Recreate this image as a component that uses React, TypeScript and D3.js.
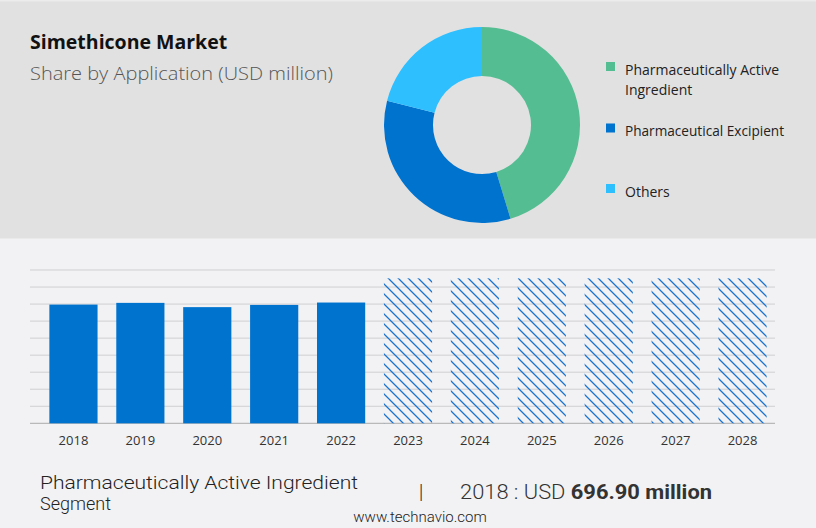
import React from "react";
import * as d3 from "d3";

const years = ["2018", "2019", "2020", "2021", "2022", "2023", "2024", "2025", "2026", "2027", "2028"];
const barValues = [696.9, 707, 682, 695, 709, 851, 851, 851, 851, 851, 851];
const forecastFrom = "2023";
const yTicks = [0, 100, 200, 300, 400, 500, 600, 700, 800, 900];

const segments = ["Pharmaceutically Active Ingredient", "Pharmaceutical Excipient", "Others"];
const segmentShares = [45.3, 33.7, 21.0];
const segmentColors = ["#55bd92", "#0073cf", "#2ebfff"];
const legendLines = [["Pharmaceutically Active", "Ingredient"], ["Pharmaceutical Excipient"], ["Others"]];

const W = 816;
const H = 528;

export default function App() {
  const x = d3.scaleBand<string>().domain(years).range([40, 776]).paddingInner(0.28).paddingOuter(0.14);
  const y = d3.scaleLinear().domain([0, 900]).range([423.3, 270]);

  const pie = d3.pie<number>().sort(null).value((d) => d);
  const arcs = pie(segmentShares);
  const arc = d3.arc<d3.PieArcDatum<number>>().innerRadius(49).outerRadius(98);
  const cx = 482;
  const cy = 125;

  const legendTop = [62, 123.5, 184];
  const font = "'Segoe UI', 'Open Sans', 'Noto Sans', sans-serif";
  const light = "Roboto, 'Noto Sans', sans-serif";

  return (
    <svg width={W} height={H} style={{ position: "absolute", left: 0, top: 0, display: "block" }}>
      <defs>
        <pattern id="hatch" patternUnits="userSpaceOnUse" width="10" height="10">
          <path d="M-2.5,-2.5 L12.5,12.5 M-2.5,7.5 L2.5,12.5 M7.5,-2.5 L12.5,2.5" stroke="#1a73d0" strokeWidth="1.3" />
        </pattern>
      </defs>
      <rect x={0} y={0} width={W} height={H} fill="#f2f2f4" />
      <rect x={0} y={0} width={W} height={238.5} fill="#e1e1e1" />
      <rect x={0} y={0} width={W} height={1.5} fill="#ececec" />

      <text x={30} y={49} fontFamily={font} fontWeight={700} fontSize={19.5} fill="#111">Simethicone Market</text>
      <text x={30} y={80} fontFamily={font} fontWeight={300} fontSize={18} fill="#555" textLength={303} lengthAdjust="spacingAndGlyphs">Share by Application (USD million)</text>

      <g transform={`translate(${cx},${cy})`}>
        {arcs.map((a, i) => (
          <path key={i} d={arc(a) || ""} fill={segmentColors[i]} />
        ))}
      </g>

      {segments.map((s, i) => (
        <g key={s}>
          <rect x={606} y={legendTop[i]} width={9} height={9} fill={segmentColors[i]} />
          {legendLines[i].map((ln, j) => (
            <text key={j} x={625} y={legendTop[i] + 12.5 + j * 20} fontFamily={font} fontSize={14} fill="#222" textLength={ln === "Pharmaceutical Excipient" ? 159 : undefined} lengthAdjust="spacingAndGlyphs">{ln}</text>
          ))}
        </g>
      ))}

      {yTicks.map((t) => (
        <line key={t} x1={30} x2={775} y1={y(t)} y2={y(t)} stroke={t === 0 ? "#aaaaaa" : "#cfcfd2"} strokeWidth={1} />
      ))}

      {years.map((yr, i) => {
        const isForecast = +yr >= +forecastFrom;
        return (
          <rect
            key={yr}
            x={x(yr)}
            y={y(barValues[i])}
            width={x.bandwidth()}
            height={y(0) - y(barValues[i])}
            fill={isForecast ? "url(#hatch)" : "#0073cf"}
          />
        );
      })}

      {years.map((yr) => (
        <text key={yr} x={(x(yr) || 0) + x.bandwidth() / 2} y={445} textAnchor="middle" fontFamily={font} fontSize={13} fill="#333">{yr}</text>
      ))}

      <text x={40} y={488.5} fontFamily={light} fontWeight={300} fontSize={18} fill="#222" textLength={318} lengthAdjust="spacingAndGlyphs">Pharmaceutically Active Ingredient</text>
      <text x={40} y={509.5} fontFamily={light} fontWeight={300} fontSize={18} fill="#222">Segment</text>
      <text x={421} y={499} fontFamily={light} fontWeight={300} fontSize={21} fill="#333" textAnchor="middle">|</text>
      <text x={460} y={499} fontFamily={light} fontWeight={300} fontSize={20} fill="#333" textLength={252} lengthAdjust="spacingAndGlyphs">
        2018 : USD <tspan fontWeight={700}>696.90 million</tspan>
      </text>
      <text x={420} y={522} fontFamily={light} fontWeight={300} fontSize={15} fill="#222" textAnchor="middle">www.technavio.com</text>
    </svg>
  );
}
